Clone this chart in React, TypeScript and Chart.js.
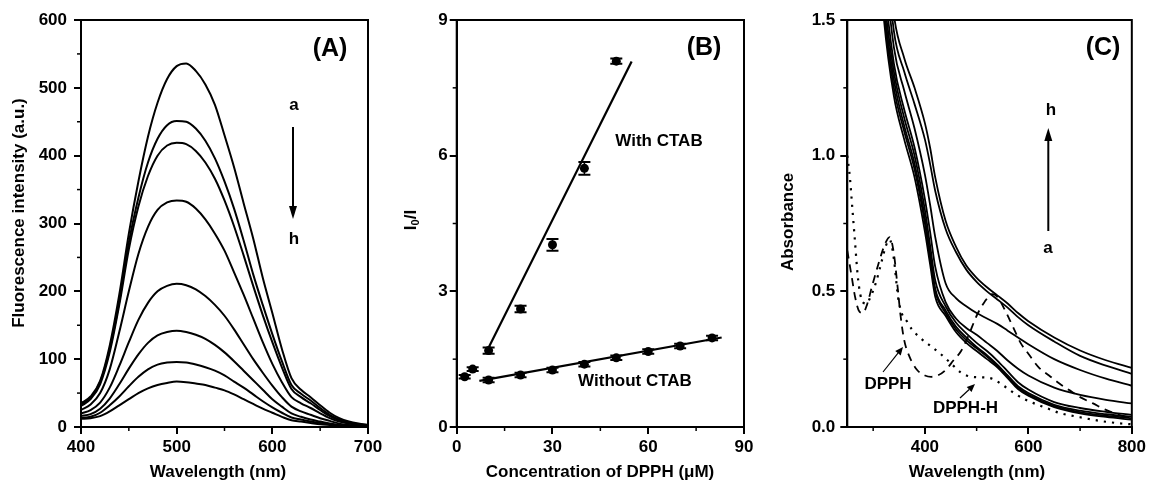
import React, { useEffect, useRef } from "react";
import { Chart, registerables } from "chart.js";

Chart.register(...registerables);

const FONT = "'Liberation Sans', Arial, Helvetica, sans-serif";

// ---------------- Panel A : fluorescence spectra ----------------
const wavelengthA = [400, 410, 420, 430, 440, 450, 460, 470, 480, 490, 500, 510, 520, 530, 540, 550, 560, 570, 580, 590, 600, 610, 620, 630, 640, 650, 660, 670, 680, 690, 700];
const fluorA = [35, 45, 68, 120, 195, 285, 362, 428, 478, 513, 532, 536, 525, 505, 475, 430, 383, 330, 278, 220, 168, 115, 72, 55, 44, 32, 21, 13, 8, 5, 3];
const fluorB = [33, 43, 66, 115, 185, 272, 338, 390, 425, 445, 451, 450, 440, 422, 396, 362, 322, 275, 225, 180, 137, 97, 62, 49, 39, 28, 18, 11, 7, 4, 3];
const fluorC = [31, 41, 63, 110, 180, 262, 325, 370, 400, 415, 419, 417, 407, 390, 366, 334, 296, 253, 208, 165, 125, 88, 56, 44, 35, 25, 16, 10, 6, 4, 2];
const fluorD = [25, 33, 50, 85, 140, 200, 255, 295, 320, 331, 334, 332, 322, 306, 285, 260, 228, 195, 160, 125, 93, 66, 44, 35, 28, 20, 13, 8, 5, 3, 2];
const fluorE = [20, 25, 36, 58, 90, 125, 158, 183, 200, 208, 211, 209, 203, 193, 180, 164, 144, 122, 100, 80, 61, 44, 30, 23, 18, 13, 9, 5, 3, 2, 1];
const fluorF = [16, 19, 27, 42, 63, 86, 107, 124, 135, 140, 142, 140, 136, 130, 121, 110, 97, 83, 69, 55, 41, 30, 20, 15, 11, 8, 5, 3, 2, 1, 1];
const fluorG = [13, 15, 21, 32, 45, 60, 74, 85, 92, 95, 96, 95, 92, 88, 83, 76, 67, 58, 48, 38, 29, 21, 14, 11, 8, 6, 4, 2, 1, 1, 0];
const fluorH = [12, 13, 16, 23, 32, 41, 50, 57, 62, 65, 67, 66, 64, 62, 58, 54, 48, 41, 34, 27, 21, 15, 10, 8, 6, 4, 3, 2, 1, 1, 0];
const fluorSeries = [fluorA, fluorB, fluorC, fluorD, fluorE, fluorF, fluorG, fluorH];

const ticksAX = [400, 500, 600, 700];
const minorAX = [450, 550, 650];
const ticksAY = [0, 100, 200, 300, 400, 500, 600];
const minorAY = [50, 150, 250, 350, 450, 550];

// ---------------- Panel B : Stern-Volmer ----------------
const concWith = [2.5, 5, 10, 20, 30, 40, 50];
const ratioWith = [1.11, 1.28, 1.69, 2.61, 4.03, 5.72, 8.09];
const errWith = [0.04, 0.04, 0.07, 0.07, 0.13, 0.14, 0.06];
const concWithout = [10, 20, 30, 40, 50, 60, 70, 80];
const ratioWithout = [1.04, 1.15, 1.26, 1.39, 1.53, 1.67, 1.79, 1.97];
const errWithout = [0.05, 0.05, 0.05, 0.05, 0.05, 0.05, 0.05, 0.05];
const fitWithX = [9.9, 54.8];
const fitWithY = [1.74, 8.08];
const fitWithoutX = [7.1, 83.0];
const fitWithoutY = [1.02, 1.98];

const ticksBX = [0, 30, 60, 90];
const minorBX = [15, 45, 75];
const ticksBY = [0, 3, 6, 9];
const minorBY = [1.5, 4.5, 7.5];

// ---------------- Panel C : absorbance ----------------
const wavelengthC = [300, 320, 340, 360, 380, 400, 410, 420, 440, 460, 480, 500, 520, 540, 560, 580, 600, 650, 700, 750, 800];
const absA = [2.1, 1.52, 1.22, 1.06, 0.92, 0.72, 0.6, 0.48, 0.41, 0.35, 0.31, 0.28, 0.25, 0.22, 0.18, 0.14, 0.115, 0.073, 0.05, 0.037, 0.027];
const absB = [2.15, 1.55, 1.25, 1.09, 0.95, 0.75, 0.62, 0.5, 0.42, 0.36, 0.32, 0.29, 0.26, 0.225, 0.185, 0.145, 0.12, 0.078, 0.055, 0.042, 0.032];
const absC = [2.2, 1.58, 1.28, 1.11, 0.97, 0.77, 0.64, 0.51, 0.43, 0.37, 0.33, 0.295, 0.265, 0.23, 0.19, 0.15, 0.125, 0.082, 0.06, 0.047, 0.038];
const absD = [2.25, 1.62, 1.31, 1.14, 1.0, 0.8, 0.67, 0.54, 0.445, 0.385, 0.345, 0.31, 0.28, 0.245, 0.205, 0.165, 0.138, 0.092, 0.07, 0.056, 0.045];
const absE = [2.3, 1.68, 1.34, 1.17, 1.03, 0.84, 0.72, 0.59, 0.46, 0.4, 0.365, 0.34, 0.31, 0.28, 0.245, 0.215, 0.19, 0.145, 0.118, 0.1, 0.087];
const absF = [2.4, 1.78, 1.4, 1.24, 1.1, 0.93, 0.82, 0.7, 0.53, 0.475, 0.445, 0.42, 0.4, 0.38, 0.355, 0.33, 0.305, 0.25, 0.21, 0.178, 0.152];
const absG = [2.5, 1.88, 1.46, 1.31, 1.19, 1.06, 0.97, 0.87, 0.73, 0.645, 0.58, 0.535, 0.5, 0.47, 0.44, 0.405, 0.375, 0.315, 0.262, 0.226, 0.196];
const absH = [2.6, 1.95, 1.52, 1.36, 1.25, 1.12, 1.03, 0.92, 0.76, 0.665, 0.595, 0.55, 0.515, 0.485, 0.455, 0.42, 0.39, 0.33, 0.282, 0.246, 0.218];
const absSeries = [absA, absB, absC, absD, absE, absF, absG, absH];

const dpphX = [250, 258, 265, 272, 280, 288, 298, 310, 322, 332, 340, 347, 353, 360, 370, 385, 400, 412, 425, 440, 455, 470, 485, 500, 515, 530, 540, 555, 570, 585, 600, 620, 640, 660, 680, 700, 725, 750, 775, 800];
const dpphY = [0.65, 0.56, 0.48, 0.43, 0.42, 0.45, 0.52, 0.6, 0.67, 0.7, 0.64, 0.52, 0.41, 0.32, 0.26, 0.21, 0.19, 0.185, 0.19, 0.21, 0.245, 0.28, 0.34, 0.41, 0.46, 0.49, 0.48, 0.43, 0.37, 0.31, 0.27, 0.22, 0.19, 0.16, 0.135, 0.11, 0.087, 0.063, 0.045, 0.03];
const dpphHX = [250, 255, 260, 265, 270, 275, 280, 287, 295, 305, 315, 325, 332, 340, 348, 355, 365, 375, 390, 410, 430, 450, 470, 490, 510, 530, 550, 570, 590, 610, 635, 660, 700, 740, 780, 800];
const dpphHY = [1.0, 0.92, 0.8, 0.68, 0.56, 0.49, 0.46, 0.455, 0.48, 0.53, 0.6, 0.67, 0.69, 0.62, 0.48, 0.42, 0.39, 0.36, 0.33, 0.3, 0.27, 0.235, 0.2, 0.185, 0.183, 0.178, 0.155, 0.128, 0.105, 0.088, 0.07, 0.052, 0.036, 0.022, 0.013, 0.01];

const ticksCX = [400, 600, 800];
const minorCX = [300, 500, 700];
const ticksCY = [0, 0.5, 1.0, 1.5];
const minorCY = [0.25, 0.75, 1.25];

// ---------------- helpers ----------------
const pts = (xs: number[], ys: number[]) => xs.map((x, i) => ({ x, y: ys[i] }));

type Part = { t: string; sub?: boolean };
type Txt = { t?: string; parts?: Part[]; x: number; y: number; size?: number; rot?: boolean };
type Arrow = { x1: number; y1: number; x2: number; y2: number; w: number; head: number; hw: number };
type ErrSet = { x: number[]; y: number[]; err: number[] };
type DecorSpec = { minorX: number[]; minorY: number[]; texts: Txt[]; arrows: Arrow[]; errors?: ErrSet[] };

function makeDecor(spec: DecorSpec) {
  return {
    id: "decor",
    afterDatasetsDraw(chart: any) {
      const ctx: CanvasRenderingContext2D = chart.ctx;
      const { left, right, top, bottom } = chart.chartArea;
      const xs = chart.scales.x;
      const ys = chart.scales.y;
      ctx.save();
      ctx.strokeStyle = "#000";
      ctx.fillStyle = "#000";
      // error bars
      (spec.errors || []).forEach((e) => {
        e.x.forEach((xv, i) => {
          const px = xs.getPixelForValue(xv);
          const y1 = ys.getPixelForValue(e.y[i] - e.err[i]);
          const y2 = ys.getPixelForValue(e.y[i] + e.err[i]);
          ctx.lineWidth = 1.5;
          ctx.beginPath();
          ctx.moveTo(px, y1);
          ctx.lineTo(px, y2);
          ctx.stroke();
          ctx.lineWidth = 2;
          ctx.beginPath();
          ctx.moveTo(px - 6, y1);
          ctx.lineTo(px + 6, y1);
          ctx.moveTo(px - 6, y2);
          ctx.lineTo(px + 6, y2);
          ctx.stroke();
        });
      });
      // frame
      ctx.lineWidth = 2;
      ctx.strokeRect(left, top, right - left, bottom - top);
      // minor ticks
      ctx.lineWidth = 1.5;
      spec.minorX.forEach((v) => {
        const p = xs.getPixelForValue(v);
        ctx.beginPath();
        ctx.moveTo(p, bottom);
        ctx.lineTo(p, bottom + 4);
        ctx.stroke();
      });
      spec.minorY.forEach((v) => {
        const p = ys.getPixelForValue(v);
        ctx.beginPath();
        ctx.moveTo(left, p);
        ctx.lineTo(left - 4, p);
        ctx.stroke();
      });
      // arrows
      spec.arrows.forEach((a) => {
        const ang = Math.atan2(a.y2 - a.y1, a.x2 - a.x1);
        const bx = a.x2 - Math.cos(ang) * a.head;
        const by = a.y2 - Math.sin(ang) * a.head;
        ctx.lineWidth = a.w;
        ctx.beginPath();
        ctx.moveTo(a.x1, a.y1);
        ctx.lineTo(bx, by);
        ctx.stroke();
        ctx.beginPath();
        ctx.moveTo(a.x2, a.y2);
        ctx.lineTo(bx + Math.sin(ang) * a.hw, by - Math.cos(ang) * a.hw);
        ctx.lineTo(bx - Math.sin(ang) * a.hw, by + Math.cos(ang) * a.hw);
        ctx.closePath();
        ctx.fill();
      });
      // texts
      spec.texts.forEach((tx) => {
        const size = tx.size || 17;
        ctx.save();
        ctx.translate(tx.x, tx.y);
        if (tx.rot) ctx.rotate(-Math.PI / 2);
        ctx.textBaseline = "middle";
        if (tx.parts) {
          const fontFor = (p: Part) => `bold ${p.sub ? Math.round(size * 0.65) : size}px ${FONT}`;
          let total = 0;
          tx.parts.forEach((p) => {
            ctx.font = fontFor(p);
            total += ctx.measureText(p.t).width;
          });
          let cx = -total / 2;
          ctx.textAlign = "left";
          tx.parts.forEach((p) => {
            ctx.font = fontFor(p);
            ctx.fillText(p.t, cx, p.sub ? size * 0.3 : 0);
            cx += ctx.measureText(p.t).width;
          });
        } else {
          ctx.font = `bold ${size}px ${FONT}`;
          ctx.textAlign = "center";
          ctx.fillText(tx.t || "", 0, 0);
        }
        ctx.restore();
      });
      ctx.restore();
    },
  };
}

function axis(kind: "x" | "y", min: number, max: number, major: number[], fit: number, pad: number, fmt?: (v: number) => string) {
  return {
    type: "linear",
    min,
    max,
    afterBuildTicks: (s: any) => {
      s.ticks = major.map((v) => ({ value: v }));
    },
    afterFit: (s: any) => {
      if (kind === "x") s.height = fit;
      else s.width = fit;
    },
    grid: { display: true, drawOnChartArea: false, drawTicks: true, tickLength: 7, color: "#000", lineWidth: 2 },
    border: { display: true, color: "#000", width: 2 },
    ticks: {
      color: "#000",
      font: { family: FONT, size: 17, weight: "bold" },
      padding: pad,
      autoSkip: false,
      maxRotation: 0,
      minRotation: 0,
      callback: (v: any) => (fmt ? fmt(Number(v)) : String(v)),
    },
    title: { display: false },
  };
}

function baseOptions(padRight: number, scales: any) {
  return {
    responsive: false,
    animation: false,
    events: [],
    layout: { padding: { left: 0, top: 20, right: padRight, bottom: 0 } },
    plugins: { legend: { display: false }, tooltip: { enabled: false } },
    scales,
  };
}

const lineStyle = { borderColor: "#000", borderWidth: 2, pointRadius: 0, fill: false, cubicInterpolationMode: "monotone" as const };

function buildA() {
  return {
    type: "line",
    data: {
      datasets: fluorSeries.map((s, i) => ({
        label: "abcdefgh"[i],
        data: pts(wavelengthA, s),
        ...lineStyle,
      })),
    },
    options: baseOptions(27, {
      x: axis("x", 400, 700, ticksAX, 62, 3),
      y: axis("y", 0, 600, ticksAY, 81, 7),
    }),
    plugins: [
      makeDecor({
        minorX: minorAX,
        minorY: minorAY,
        texts: [
          { t: "(A)", x: 330, y: 49, size: 25 },
          { t: "a", x: 294, y: 105 },
          { t: "h", x: 294, y: 239 },
          { t: "Fluorescence intensity (a.u.)", x: 19, y: 213, rot: true },
          { t: "Wavelength (nm)", x: 218, y: 472 },
        ],
        arrows: [{ x1: 293, y1: 127, x2: 293, y2: 219, w: 2, head: 13, hw: 4 }],
      }),
    ],
  };
}

function buildB() {
  const pointStyle = { showLine: false, pointRadius: 4.5, pointBackgroundColor: "#000", pointBorderWidth: 0, borderColor: "#000" };
  return {
    type: "line",
    data: {
      datasets: [
        { label: "With CTAB", data: pts(concWith, ratioWith), ...pointStyle },
        { label: "Without CTAB", data: pts(concWithout, ratioWithout), ...pointStyle },
        { label: "With CTAB fit", data: pts(fitWithX, fitWithY), borderColor: "#000", borderWidth: 2.2, pointRadius: 0 },
        { label: "Without CTAB fit", data: pts(fitWithoutX, fitWithoutY), borderColor: "#000", borderWidth: 2.2, pointRadius: 0 },
      ],
    },
    options: baseOptions(26, {
      x: axis("x", 0, 90, ticksBX, 62, 3),
      y: axis("y", 0, 9, ticksBY, 76.7, 2),
    }),
    plugins: [
      makeDecor({
        minorX: minorBX,
        minorY: minorBY,
        errors: [
          { x: concWith, y: ratioWith, err: errWith },
          { x: concWithout, y: ratioWithout, err: errWithout },
        ],
        texts: [
          { t: "(B)", x: 324, y: 48, size: 25 },
          { t: "With CTAB", x: 279, y: 141 },
          { t: "Without CTAB", x: 255, y: 381 },
          { parts: [{ t: "I" }, { t: "0", sub: true }, { t: "/I" }], x: 31, y: 220, rot: true },
          { t: "Concentration of DPPH (\u03BCM)", x: 220, y: 472 },
        ],
        arrows: [],
      }),
    ],
  };
}

function buildC() {
  return {
    type: "line",
    data: {
      datasets: [
        ...absSeries.map((s, i) => ({
          label: "abcdefgh"[i],
          data: pts(wavelengthC, s),
          ...lineStyle,
          borderWidth: 1.8,
        })),
        { label: "DPPH", data: pts(dpphX, dpphY), ...lineStyle, borderWidth: 1.8, borderDash: [8, 6] },
        { label: "DPPH-H", data: pts(dpphHX, dpphHY), ...lineStyle, borderWidth: 2.2, borderDash: [2.2, 6] },
      ],
    },
    options: baseOptions(16.3, {
      x: axis("x", 250, 800, ticksCX, 62, 3),
      y: axis("y", 0, 1.5, ticksCY, 87.3, 5, (v) => v.toFixed(1)),
    }),
    plugins: [
      makeDecor({
        minorX: minorCX,
        minorY: minorCY,
        texts: [
          { t: "(C)", x: 343, y: 48, size: 25 },
          { t: "h", x: 291, y: 110 },
          { t: "a", x: 288, y: 248 },
          { t: "DPPH", x: 128, y: 384 },
          { t: "DPPH-H", x: 205.5, y: 408 },
          { t: "Absorbance", x: 28.5, y: 222, rot: true },
          { t: "Wavelength (nm)", x: 217, y: 472 },
        ],
        arrows: [
          { x1: 288.3, y1: 231, x2: 288.3, y2: 128, w: 2, head: 13, hw: 4 },
          { x1: 123, y1: 372, x2: 143, y2: 347, w: 1.2, head: 8, hw: 3.5 },
          { x1: 200, y1: 398, x2: 215, y2: 384, w: 1.2, head: 8, hw: 3.5 },
        ],
      }),
    ],
  };
}

function Panel({ left, width, build }: { left: number; width: number; build: () => any }) {
  const ref = useRef<HTMLCanvasElement>(null);
  useEffect(() => {
    const chart = new Chart(ref.current as HTMLCanvasElement, build());
    return () => chart.destroy();
  }, [build]);
  return (
    <canvas
      ref={ref}
      width={width}
      height={489}
      style={{ position: "absolute", left, top: 0, width, height: 489 }}
    />
  );
}

export default function App() {
  return (
    <div style={{ position: "fixed", left: 0, top: 0, width: 1149, height: 489, background: "#fff", overflow: "hidden" }}>
      <Panel left={0} width={395} build={buildA} />
      <Panel left={380} width={390} build={buildB} />
      <Panel left={760} width={389} build={buildC} />
    </div>
  );
}
